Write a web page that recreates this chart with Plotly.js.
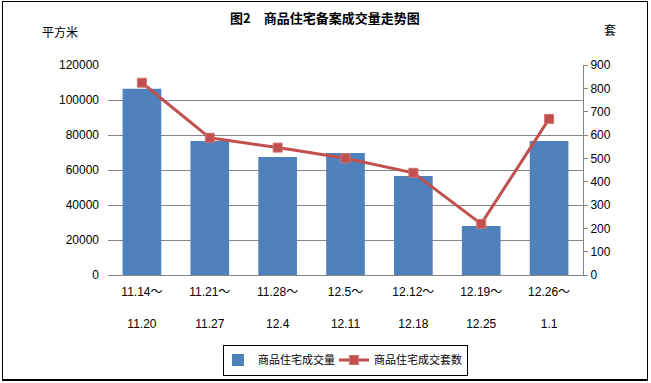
<!DOCTYPE html>
<html><head><meta charset="utf-8">
<script src="https://cdn.plot.ly/plotly-3.0.1.min.js"></script>
<style>body{margin:0;padding:0;background:#fff}#frame{position:absolute;left:2px;top:1px;width:644px;height:377px;border:1px solid #000;border-bottom-width:2px;pointer-events:none}</style>
</head><body>
<div id="chart" style="width:651px;height:383px;"></div>
<div id="frame"></div>
<script>
const periodStart = ["11.14～","11.21～","11.28～","12.5～","12.12～","12.19～","12.26～"];
const periodEnd = ["11.20","11.27","12.4","12.11","12.18","12.25","1.1"];
const areaValues = [106500, 76600, 67400, 69700, 56600, 28000, 76600];
const unitValues = [824, 588, 546, 500, 438, 219, 669];
const categories = periodStart.map((s,i)=> s + "<br><br>" + periodEnd[i]);
const fontFam = "Liberation Sans, Noto Sans CJK SC, sans-serif";
const cjk = "Noto Sans CJK SC, sans-serif";

const traces = [
  {type:"bar", x:categories, y:areaValues, name:"商品住宅成交量",
   marker:{color:"#4F81BD"}, yaxis:"y"},
  {type:"scatter", mode:"lines+markers", x:categories, y:unitValues, name:"商品住宅成交套数",
   line:{color:"#C0504D", width:3}, marker:{symbol:"square", size:9, color:"#C0504D", line:{color:"#D07370", width:1}}, yaxis:"y2"}
];
const layout = {
  width:651, height:383,
  margin:{l:108, r:68, t:65, b:108, autoexpand:false},
  paper_bgcolor:"#fff", plot_bgcolor:"#fff",
  bargap:0.43,
  showlegend:true,
  legend:{orientation:"h", x:0.5, xanchor:"center", y:(275-360)/210, yanchor:"middle",
    bordercolor:"#000", borderwidth:1, font:{family:cjk, size:11, color:"#000"},
    itemwidth:30, tracegroupgap:0, valign:"middle", indentation:-6},
  xaxis:{type:"category", showline:true, linecolor:"#868686", linewidth:1, ticks:"", showgrid:false,
    automargin:false, tickfont:{family:fontFam, size:12, color:"#000"}, ticklabelstandoff:6},
  yaxis:{range:[0,120000], dtick:20000, tick0:0, showgrid:true, gridcolor:"#868686", gridwidth:1,
    automargin:false, showline:false, zeroline:false, ticks:"", tickformat:"d", ticklabelstandoff:8,
    tickfont:{family:fontFam, size:12, color:"#000"}},
  yaxis2:{range:[0,900], dtick:100, tick0:0, overlaying:"y", side:"right", showgrid:false, zeroline:false,
    automargin:false, showline:true, linecolor:"#868686", linewidth:1, ticks:"outside", ticklen:4, tickcolor:"#868686",
    tickfont:{family:fontFam, size:12, color:"#000"}},
  annotations:[
    {text:"<b>图2　商品住宅备案成交量走势图</b>", xref:"paper", yref:"paper", x:(325-108)/475, y:(275-18)/210,
     xanchor:"center", yanchor:"middle", showarrow:false, font:{family:cjk, size:13, color:"#000"}},
    {text:"平方米", xref:"paper", yref:"paper", x:(60-108)/475, y:(275-32)/210,
     xanchor:"center", yanchor:"middle", showarrow:false, font:{family:cjk, size:12, color:"#000"}},
    {text:"套", xref:"paper", yref:"paper", x:(610-108)/475, y:(275-30)/210,
     xanchor:"center", yanchor:"middle", showarrow:false, font:{family:cjk, size:12, color:"#000"}}
  ]
};
Plotly.newPlot("chart", traces, layout, {displayModeBar:false, staticPlot:true});
</script>
</body></html>
